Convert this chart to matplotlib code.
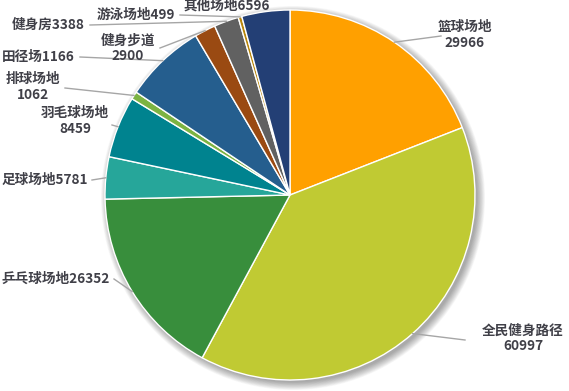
import numpy as np
import matplotlib.pyplot as plt
from matplotlib.patches import Circle

plt.rcParams['font.family'] = ['Noto Sans CJK SC', 'DejaVu Sans']

# data (clockwise from 12 o'clock)
names = ['篮球场地', '全民健身路径', '乒乓球场地', '足球场地', '羽毛球场地', '排球场地',
         '田径场', '健身步道', '健身房', '游泳场地', '其他场地']
values = [29966, 60997, 26352, 5781, 8459, 1062, 11166, 2900, 3388, 499, 6596]
labels = ['篮球场地\n29966', '全民健身路径\n60997', '乒乓球场地26352', '足球场地5781',
          '羽毛球场地\n8459', '排球场地\n1062', '田径场1166', '健身步道\n2900',
          '健身房3388', '游泳场地499', '其他场地6596']
colors = ['#FFA000', '#C0CA33', '#388E3C', '#26A69A', '#00838F', '#7CB342',
          '#255E8E', '#9A4A12', '#616161', '#B8860B', '#233F75']

# label layout in pixels (top-left origin): text x, text y, ha, line end x, line end y
lab_pos = [(465, 35, 'center', 441, 36),
           (523, 338, 'center', 465, 340),
           (110, 279, 'right', 114, 279),
           (88, 180, 'right', 92, 180),
           (75, 121, 'center', 112, 125),
           (33, 87, 'center', 65, 88),
           (75, 57, 'right', 80, 57),
           (128, 48, 'center', 160, 48),
           (85, 25, 'right', 90, 25),
           (175, 15, 'right', 180, 15),
           (227, 6, 'center', None, None)]

W, H = 569, 391
cx, cy, r = 290, H - 195, 185

fig = plt.figure(figsize=(W / 100, H / 100), dpi=100)
ax = fig.add_axes([0, 0, 1, 1])

# soft shadow
for i in range(12):
    ax.add_patch(Circle((cx + 3, cy - 3), r + 7 - i * 0.7, color='black',
                        alpha=0.03, lw=0, zorder=0))

wedges, _ = ax.pie(values, colors=colors, startangle=90, counterclock=False,
                   center=(cx, cy), radius=r, frame=True,
                   wedgeprops=dict(edgecolor='white', linewidth=1))
ax.set_xlim(0, W)
ax.set_ylim(0, H)
ax.set_aspect('equal')
ax.axis('off')

for w, lab, (tx, ty, ha, lx, ly) in zip(wedges, labels, lab_pos):
    ang = np.deg2rad((w.theta1 + w.theta2) / 2)
    sx, sy = cx + r * np.cos(ang), cy + r * np.sin(ang)
    if lx is not None:
        ax.plot([sx, lx], [sy, H - ly], color='#A6A6A6', lw=1, zorder=3)
    ax.text(tx, H - ty, lab, ha=ha, va='center', fontsize=9.8, color='#404048',
            fontweight='bold', linespacing=1.1, multialignment='center', zorder=4)

fig.savefig('out.png', dpi=100)
